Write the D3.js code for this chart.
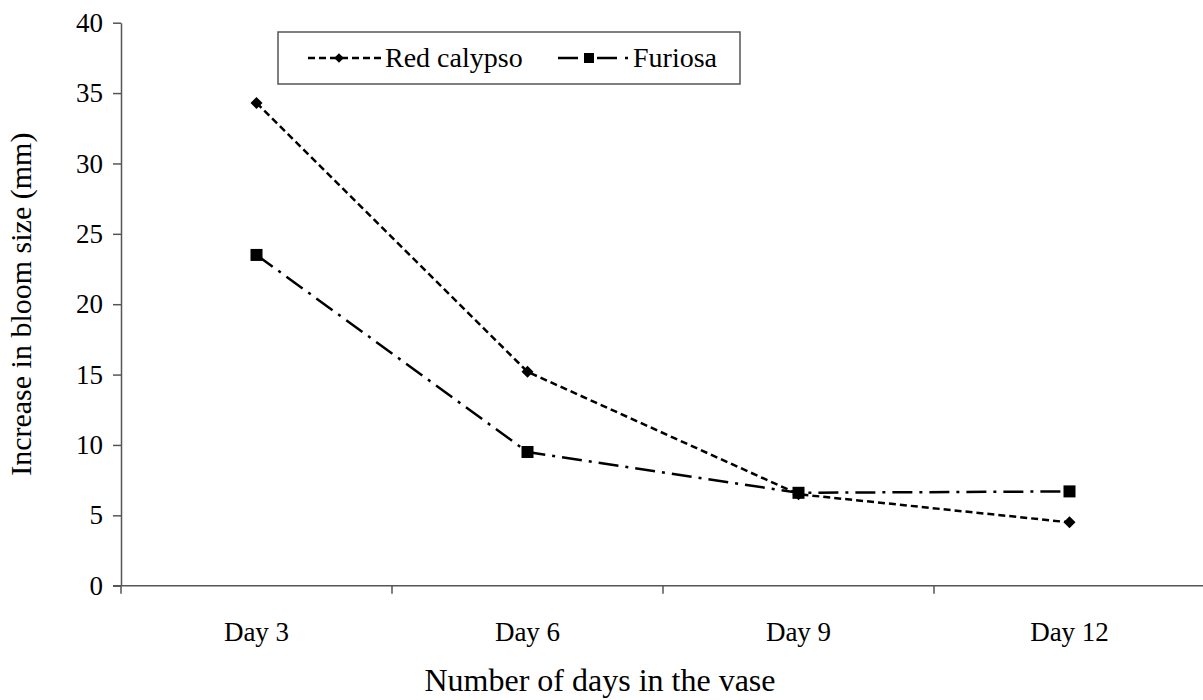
<!DOCTYPE html>
<html>
<head>
<meta charset="utf-8">
<script src="https://cdn.jsdelivr.net/npm/d3@7"></script>
<style>
  body { margin: 0; background: #fff; }
</style>
</head>
<body>
<script>
const days = ['Day 3', 'Day 6', 'Day 9', 'Day 12'];
const redCalypso = [34.3, 15.2, 6.5, 4.5];
const furiosa = [23.5, 9.5, 6.6, 6.7];
const yTicks = [0, 5, 10, 15, 20, 25, 30, 35, 40];

const FONT = '"Liberation Serif", "Times New Roman", serif';

const main = () => {
  const width = 1203;
  const height = 700;
  const mLeft = 121, mRight = 1205, mTop = 22.7, mBottom = 585.7;

  const svg = d3.select('body').append('svg')
    .attr('width', width).attr('height', height)
    .attr('font-family', FONT);

  const x = d3.scaleBand().domain(days).range([mLeft, mRight]);
  const y = d3.scaleLinear().domain([0, 40]).range([mBottom, mTop]);

  // y axis
  const yAxis = svg.append('g').attr('transform', `translate(${mLeft},0)`)
    .call(d3.axisLeft(y).tickValues(yTicks).tickSize(8).tickPadding(10).tickSizeOuter(0));
  yAxis.attr('font-family', FONT).attr('font-size', 27);
  yAxis.select('.domain').attr('stroke', '#555').attr('stroke-width', 1.5);
  yAxis.selectAll('.tick line').attr('stroke', '#555').attr('stroke-width', 1.5);
  yAxis.selectAll('text').attr('fill', '#000');

  // x axis
  const xAxis = svg.append('g').attr('transform', `translate(0,${mBottom})`)
    .call(d3.axisBottom(x).tickSize(0).tickPadding(36).tickSizeOuter(0));
  xAxis.attr('font-family', FONT).attr('font-size', 27);
  xAxis.select('.domain').attr('stroke', '#555').attr('stroke-width', 1.5).attr('d', `M${mLeft - 8},0H${mRight}`);
  xAxis.selectAll('text').attr('fill', '#000');
  // boundary ticks between categories
  xAxis.selectAll('.bound').data(days.concat(['end']))
    .join('line')
    .attr('class', 'bound')
    .attr('x1', (d, i) => mLeft + i * x.bandwidth())
    .attr('x2', (d, i) => mLeft + i * x.bandwidth())
    .attr('y1', 0).attr('y2', 8)
    .attr('stroke', '#555').attr('stroke-width', 1.5);

  // axis titles
  svg.append('text')
    .attr('x', 600).attr('y', 691)
    .attr('text-anchor', 'middle').attr('font-size', 32)
    .text('Number of days in the vase');
  svg.append('text')
    .attr('transform', `translate(31,${(mTop + mBottom) / 2}) rotate(-90)`)
    .attr('text-anchor', 'middle').attr('font-size', 30)
    .text('Increase in bloom size (mm)');

  const cx = d => x(d) + x.bandwidth() / 2;
  const line = d3.line().x(d => cx(d.day)).y(d => y(d.v));

  const redData = days.map((d, i) => ({ day: d, v: redCalypso[i] }));
  const furData = days.map((d, i) => ({ day: d, v: furiosa[i] }));

  svg.append('path').datum(furData)
    .attr('d', line).attr('fill', 'none').attr('stroke', '#000')
    .attr('stroke-width', 2.5).attr('stroke-dasharray', '20,7,3,7');
  svg.append('path').datum(redData)
    .attr('d', line).attr('fill', 'none').attr('stroke', '#000')
    .attr('stroke-width', 2.5).attr('stroke-dasharray', '7,4');

  const diamond = 'M0,-6L6,0L0,6L-6,0Z';
  svg.selectAll('.dia').data(redData).join('path')
    .attr('class', 'dia')
    .attr('transform', d => `translate(${cx(d.day)},${y(d.v)})`)
    .attr('d', diamond).attr('fill', '#000');
  svg.selectAll('.sq').data(furData).join('rect')
    .attr('class', 'sq')
    .attr('x', d => cx(d.day) - 6).attr('y', d => y(d.v) - 6)
    .attr('width', 12).attr('height', 12).attr('fill', '#000');

  // legend
  const lg = svg.append('g').attr('font-size', 28);
  lg.append('rect').attr('x', 278).attr('y', 32).attr('width', 462).attr('height', 52)
    .attr('fill', '#fff').attr('stroke', '#555').attr('stroke-width', 1.5);
  lg.append('line').attr('x1', 308).attr('x2', 382).attr('y1', 58).attr('y2', 58)
    .attr('stroke', '#000').attr('stroke-width', 2.5).attr('stroke-dasharray', '7,4');
  lg.append('path').attr('transform', 'translate(339,58) scale(0.8)').attr('d', diamond).attr('fill', '#000');
  lg.append('text').attr('x', 385).attr('y', 67).text('Red calypso');
  lg.append('line').attr('x1', 558).attr('x2', 628).attr('y1', 58).attr('y2', 58)
    .attr('stroke', '#000').attr('stroke-width', 2.5).attr('stroke-dasharray', '20,8,3,8');
  lg.append('rect').attr('x', 584).attr('y', 53).attr('width', 10).attr('height', 10).attr('fill', '#000');
  lg.append('text').attr('x', 633).attr('y', 67).text('Furiosa');
};

main();
</script>
</body>
</html>
